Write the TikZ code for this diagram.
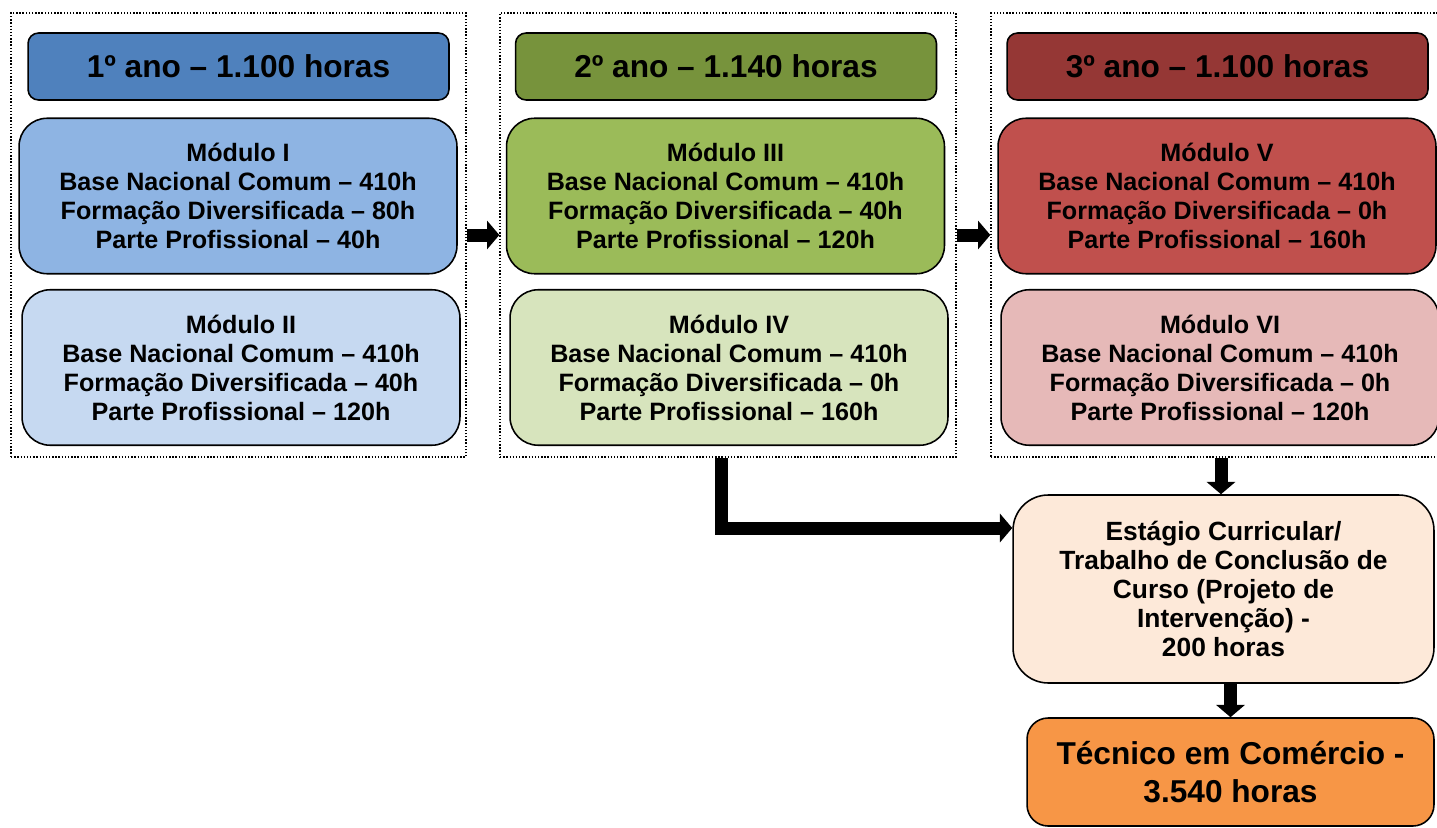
\documentclass[tikz,border=0pt]{standalone}
\usepackage{fontspec}
\setmainfont{Liberation Sans}
\usetikzlibrary{arrows.meta}

\definecolor{anoum}{HTML}{4F81BD}
\definecolor{modum}{HTML}{8EB4E3}
\definecolor{moddois}{HTML}{C6D9F1}
\definecolor{anodois}{HTML}{77933C}
\definecolor{modtres}{HTML}{9BBB59}
\definecolor{modquatro}{HTML}{D7E4BD}
\definecolor{anotres}{HTML}{953735}
\definecolor{modcinco}{HTML}{C0504D}
\definecolor{modseis}{HTML}{E6B9B8}
\definecolor{estagio}{HTML}{FDE9D9}
\definecolor{tecnico}{HTML}{F79646}

\begin{document}
\begin{tikzpicture}[
  x=0.02cm, y=-0.02cm,
  frame/.style={rectangle, draw, densely dotted, line width=0.8pt, minimum height=8.88cm},
  ano/.style={rectangle, draw, rounded corners=6pt, line width=0.9pt, minimum width=8.42cm, minimum height=1.34cm, font=\fontsize{18}{21}\selectfont\bfseries},
  modulo/.style={rectangle, draw, rounded corners=16pt, line width=0.9pt, minimum width=8.76cm, minimum height=3.11cm, align=center, font=\fontsize{14.3}{16.5}\selectfont\bfseries},
  seta/.style={line width=7.4pt, line join=miter, -{Triangle[length=7pt,width=16pt]}}
]
\useasboundingbox (0,0) rectangle (1437,828);
\clip (0,0) rectangle (1437,828);

% Frames
\node[frame, minimum width=9.1cm] (f1) at (238.5,235) {};
\node[frame, minimum width=9.12cm] (f2) at (728,235) {};
\node[frame, minimum width=9.2cm] (f3) at (1221,235) {};

% 1o ano
\node[ano, fill=anoum] (a1) at (238.5,66.5) {1º ano – 1.100 horas};
\node[modulo, fill=modum] (m1) at (238,196) {Módulo I\\Base Nacional Comum – 410h\\Formação Diversificada – 80h\\Parte Profissional – 40h};
\node[modulo, fill=moddois] (m2) at (241,367.5) {Módulo II\\Base Nacional Comum – 410h\\Formação Diversificada – 40h\\Parte Profissional – 120h};

% 2o ano
\node[ano, fill=anodois] (a2) at (726,66.5) {2º ano – 1.140 horas};
\node[modulo, fill=modtres] (m3) at (725.5,196) {Módulo III\\Base Nacional Comum – 410h\\Formação Diversificada – 40h\\Parte Profissional – 120h};
\node[modulo, fill=modquatro] (m4) at (729,367.5) {Módulo IV\\Base Nacional Comum – 410h\\Formação Diversificada – 0h\\Parte Profissional – 160h};

% 3o ano
\node[ano, fill=anotres] (a3) at (1217.5,66.5) {3º ano – 1.100 horas};
\node[modulo, fill=modcinco] (m5) at (1217,196) {Módulo V\\Base Nacional Comum – 410h\\Formação Diversificada – 0h\\Parte Profissional – 160h};
\node[modulo, fill=modseis] (m6) at (1220,367.5) {Módulo VI\\Base Nacional Comum – 410h\\Formação Diversificada – 0h\\Parte Profissional – 120h};

% Final
\node[modulo, fill=estagio, rounded corners=20pt, minimum width=8.42cm, minimum height=3.76cm, font=\fontsize{15}{16.6}\selectfont\bfseries] (est) at (1223.5,589) {Estágio Curricular/\\Trabalho de Conclusão de\\Curso (Projeto de\\Intervenção) -\\200 horas};
\node[modulo, fill=tecnico, rounded corners=12pt, minimum width=8.14cm, minimum height=2.16cm, font=\fontsize{18}{21.6}\selectfont\bfseries] (tec) at (1230.5,772) {Técnico em Comércio -\\3.540 horas};

% Arrows
\draw[seta] (f1.east) -- (f2.west);
\draw[seta] (f2.east) -- (f3.west);
\draw[seta] ([xshift=-0.14cm]f2.south) |- ([yshift=1.22cm]est.west);
\draw[seta] (f3.south) -- (f3.south |- est.north);
\draw[seta] (est.south -| tec.north) -- (tec.north);
\end{tikzpicture}
\end{document}
